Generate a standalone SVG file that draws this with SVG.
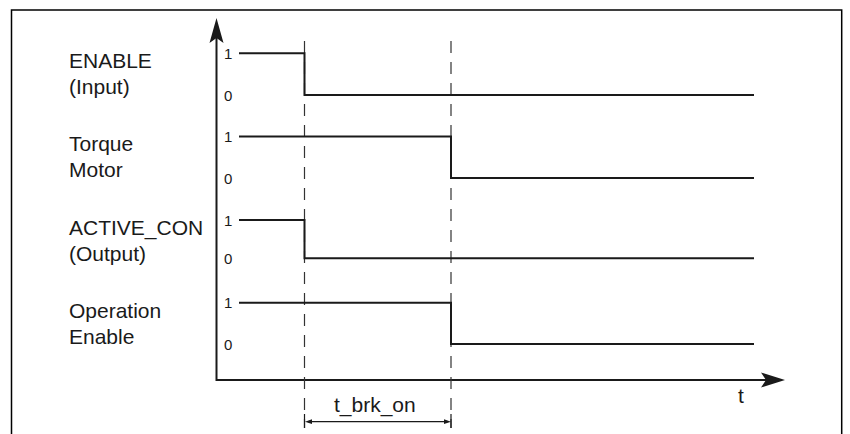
<svg xmlns="http://www.w3.org/2000/svg" width="850" height="434" viewBox="0 0 850 434">
<style>
.lbl{font-family:"Liberation Sans",Arial,sans-serif;font-size:21px;fill:#1a1a1a}
.lvl{font-family:"Liberation Sans",Arial,sans-serif;font-size:15px;fill:#1a1a1a}
.sig{fill:none;stroke:#1a1a1a;stroke-width:2;stroke-linejoin:miter}
.axis{fill:none;stroke:#1a1a1a;stroke-width:2}
.dash{fill:none;stroke:#333;stroke-width:1.2;stroke-dasharray:12 9}
.ah{fill:#1a1a1a}
</style>
<rect width="850" height="434" fill="#fff"/>
<path d="M11.5,434 V10 H841.7 V434" fill="none" stroke="#000" stroke-width="1.5"/>
<g id="labels">
<text class="lbl" x="69" y="68">ENABLE</text>
<text class="lbl" x="69" y="94">(Input)</text>
<text class="lbl" x="69" y="151">Torque</text>
<text class="lbl" x="69" y="177">Motor</text>
<text class="lbl" x="69" y="235">ACTIVE_CON</text>
<text class="lbl" x="69" y="261">(Output)</text>
<text class="lbl" x="69" y="318">Operation</text>
<text class="lbl" x="69" y="344">Enable</text>
</g>
<g id="axes">
<path class="axis" d="M216.5,36 V380 H768"/>
<polygon class="ah" points="216.5,18 209.5,43 216.5,38 223.5,43"/>
<polygon class="ah" points="785,380 761,372.5 766,380 761,387.5"/>
<text class="lbl" x="738" y="403">t</text>
</g>
<g id="levels">
<text class="lvl" x="224" y="58.5">1</text>
<text class="lvl" x="224" y="100.5">0</text>
<text class="lvl" x="224" y="142">1</text>
<text class="lvl" x="224" y="183.5">0</text>
<text class="lvl" x="224" y="225.5">1</text>
<text class="lvl" x="224" y="263.5">0</text>
<text class="lvl" x="224" y="308">1</text>
<text class="lvl" x="224" y="349.5">0</text>
</g>
<g id="connectors">
<line class="dash" x1="304.5" y1="41" x2="304.5" y2="428"/>
<line class="dash" x1="451" y1="41" x2="451" y2="428"/>
<path class="sig" d="M239,53.3 H304.5 V95 H754"/>
<path class="sig" d="M239,136.5 H451 V178 H754"/>
<path class="sig" d="M239,220 H304.5 V258.3 H754"/>
<path class="sig" d="M239,302.7 H451 V344 H754"/>
</g>
<g id="dimension">
<line x1="308" y1="421.7" x2="447.5" y2="421.7" stroke="#1a1a1a" stroke-width="1.2"/>
<polygon class="ah" points="305,421.7 312,419.3 312,424.1"/>
<polygon class="ah" points="451,421.7 444,419.3 444,424.1"/>
<line x1="304.5" y1="414" x2="304.5" y2="428" stroke="#1a1a1a" stroke-width="1.2"/>
<line x1="451" y1="414" x2="451" y2="428" stroke="#1a1a1a" stroke-width="1.2"/>
<text class="lbl" x="334" y="412">t_brk_on</text>
</g>
</svg>
